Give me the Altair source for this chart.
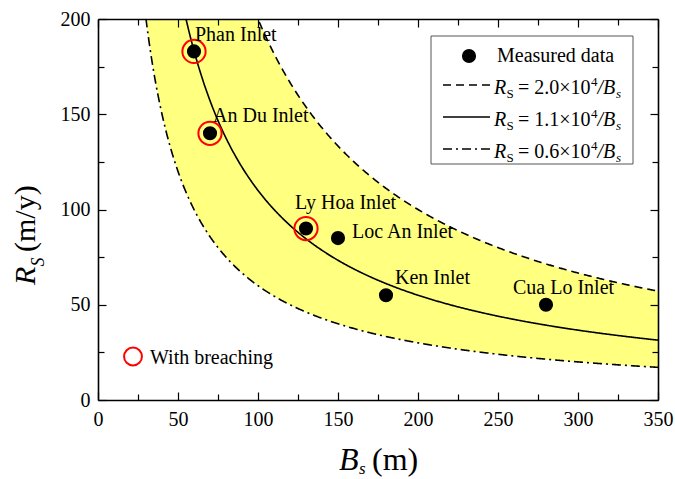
import altair as alt
import numpy as np
import pandas as pd

FONT = "Liberation Serif"

# ---- measured data ----
inlets = ["Phan Inlet", "An Du Inlet", "Ly Hoa Inlet", "Loc An Inlet", "Ken Inlet", "Cua Lo Inlet"]
bs_values = [60, 70, 130, 150, 180, 280]
rs_values = [183, 140, 90, 85, 55, 50]
breaching = [True, True, True, False, False, False]

# ---- fitted curves R_S = C / B_s (coefficients from legend) ----
coef_upper = 2.0e4
coef_mid = 1.1e4
coef_lower = 0.6e4

x_major = [0, 50, 100, 150, 200, 250, 300, 350]
x_minor = [25, 75, 125, 175, 225, 275, 325]
y_major = [0, 50, 100, 150, 200]
y_minor = [25, 75, 125, 175]

# label offsets (pixels) relative to each point: styling only
label_dx = [1, 3, -11, 14, 9, -33]
label_dy = [-16, -17, -26, -6, -17, -17]

W, H = 560, 381

pts = pd.DataFrame({"inlet": inlets, "B": bs_values, "R": rs_values, "breach": breaching})

b_grid = np.arange(25.0, 350.01, 0.5)
curves = pd.DataFrame({"B": b_grid,
                       "upper": coef_upper / b_grid,
                       "mid": coef_mid / b_grid,
                       "lower": coef_lower / b_grid})
band = curves[curves["B"] >= coef_lower / 200].copy()
band["top"] = np.minimum(band["upper"], 200)

xs = alt.Scale(domain=[0, 350], nice=False, zero=False)
ys = alt.Scale(domain=[0, 200], nice=False, zero=False)


def tick_axis(orient, offset, values, size, domain=False):
    return alt.Axis(orient=orient, offset=offset, values=values, tickSize=size,
                    tickColor="black", tickWidth=1.2, labels=False, domain=domain,
                    domainColor="black", domainWidth=1.6, grid=False, title=None, zindex=2)


ax_x_lab = alt.Axis(orient="bottom", values=x_major, ticks=False, tickSize=0, labelPadding=9,
                    labelFont=FONT, labelFontSize=20, labelColor="black", labelFlush=False,
                    labelOverlap=False, domain=True, domainColor="black", domainWidth=1.6,
                    grid=False, title=None, zindex=2)
ax_y_lab = alt.Axis(orient="left", values=y_major, ticks=False, tickSize=0, labelPadding=8,
                    labelFont=FONT, labelFontSize=20, labelColor="black", labelFlush=False,
                    labelOverlap=False, domain=True, domainColor="black", domainWidth=1.6,
                    grid=False, title=None, zindex=2)

area = alt.Chart(band).mark_area(color="#FFFF80", opacity=1).encode(
    x=alt.X("B:Q", scale=xs, axis=ax_x_lab),
    y=alt.Y("top:Q", scale=ys, axis=ax_y_lab),
    y2="lower:Q",
)

DASH = [8, 5]
DASHDOT = [9, 4, 2, 4]

line_up = alt.Chart(curves).mark_line(clip=True, color="black", strokeWidth=1.6, strokeDash=DASH).encode(
    x=alt.X("B:Q", scale=xs, axis=tick_axis("top", -H, x_major, 8)),
    y=alt.Y("upper:Q", scale=ys, axis=tick_axis("right", -W, y_major, 8)),
)
line_mid = alt.Chart(curves).mark_line(clip=True, color="black", strokeWidth=1.6).encode(
    x=alt.X("B:Q", scale=xs, axis=tick_axis("top", -H, x_minor, 6)),
    y=alt.Y("mid:Q", scale=ys, axis=tick_axis("right", -W, y_minor, 6)),
)
line_low = alt.Chart(curves).mark_line(clip=True, color="black", strokeWidth=1.6, strokeDash=DASHDOT).encode(
    x=alt.X("B:Q", scale=xs, axis=tick_axis("bottom", -H, x_major, 8, domain=True)),
    y=alt.Y("lower:Q", scale=ys, axis=tick_axis("left", -W, y_major, 8, domain=True)),
)
dots = alt.Chart(pts).mark_circle(color="black", opacity=1, size=200).encode(
    x=alt.X("B:Q", scale=xs, axis=tick_axis("bottom", -H, x_minor, 6)),
    y=alt.Y("R:Q", scale=ys, axis=tick_axis("left", -W, y_minor, 6)),
)
rings = alt.Chart(pts).transform_filter(alt.datum.breach).mark_point(
    shape="circle", filled=False, color="#FF0000", strokeWidth=2, size=540, opacity=1).encode(
    x=alt.X("B:Q", scale=xs, axis=None),
    y=alt.Y("R:Q", scale=ys, axis=None),
)

label_layers = []
for name, dx, dy in zip(inlets, label_dx, label_dy):
    label_layers.append(
        alt.Chart(pts).transform_filter(alt.datum.inlet == name).mark_text(
            align="left", baseline="middle", dx=dx, dy=dy, font=FONT, fontSize=20, color="black").encode(
            x=alt.X("B:Q", scale=xs, axis=None),
            y=alt.Y("R:Q", scale=ys, axis=None),
            text="inlet:N",
        )
    )

one = pd.DataFrame({"k": [0]})


def txt(s, x, y, size, italic=False, angle=0, baseline="alphabetic"):
    kw = dict(text=s, align="left", baseline=baseline, font=FONT, fontSize=size, color="black")
    if italic:
        kw["fontStyle"] = "italic"
    if angle:
        kw["angle"] = angle
    return alt.Chart(one).mark_text(**kw).encode(x=alt.value(x), y=alt.value(y))


decor = []
# legend box
decor.append(alt.Chart(one).mark_rect(fill="white", stroke="#555555", strokeWidth=1).encode(
    x=alt.value(333), x2=alt.value(535), y=alt.value(17), y2=alt.value(145)))
decor.append(alt.Chart(one).mark_circle(color="black", opacity=1, size=200).encode(
    x=alt.value(371), y=alt.value(37)))
decor.append(txt("Measured data", 399, 43, 20))

rows = [("2.0", DASH), ("1.1", None), ("0.6", DASHDOT)]
baselines = [75, 107, 139]
X0 = 396
for (coef_txt, dash), b in zip(rows, baselines):
    rk = dict(color="black", strokeWidth=1.6)
    if dash:
        rk["strokeDash"] = dash
    decor.append(alt.Chart(one).mark_rule(**rk).encode(
        x=alt.value(345), x2=alt.value(392), y=alt.value(b - 9)))
    decor.append(txt("R", X0, b, 20, italic=True))
    decor.append(txt("S", X0 + 12.5, b + 4, 13))
    decor.append(txt("= " + coef_txt + "×10", X0 + 24, b, 20))
    decor.append(txt("4", X0 + 97, b - 8, 13))
    decor.append(txt("/B", X0 + 103.5, b, 20, italic=True))
    decor.append(txt("s", X0 + 122, b + 4, 13, italic=True))

# "With breaching" annotation
decor.append(alt.Chart(one).mark_point(shape="circle", filled=False, color="#FF0000",
                                       strokeWidth=2, size=320, opacity=1).encode(
    x=alt.value(35), y=alt.value(337.5)))
decor.append(txt("With breaching", 52, 339, 20, baseline="middle"))

# axis titles
decor.append(txt("B", 241, 451, 32, italic=True))
decor.append(txt("s", 261, 455, 17, italic=True))
decor.append(txt("(m)", 274, 451, 32))
decor.append(txt("R", -63, 266, 30, italic=True, angle=270))
decor.append(txt("S", -54, 247.5, 18, italic=True, angle=270))
decor.append(txt("(m/y)", -63, 233, 30, angle=270))

chart = alt.layer(area, line_up, line_mid, line_low, dots, rings, *label_layers, *decor).resolve_axis(
    x="independent", y="independent"
).properties(
    width=W, height=H,
    autosize=alt.AutoSizeParams(type="none"),
    padding={"left": 98, "top": 19, "right": 17, "bottom": 79},
    background="white",
).configure_view(strokeWidth=0)

chart.save("out.html", embed_options={"renderer": "svg", "actions": False})
